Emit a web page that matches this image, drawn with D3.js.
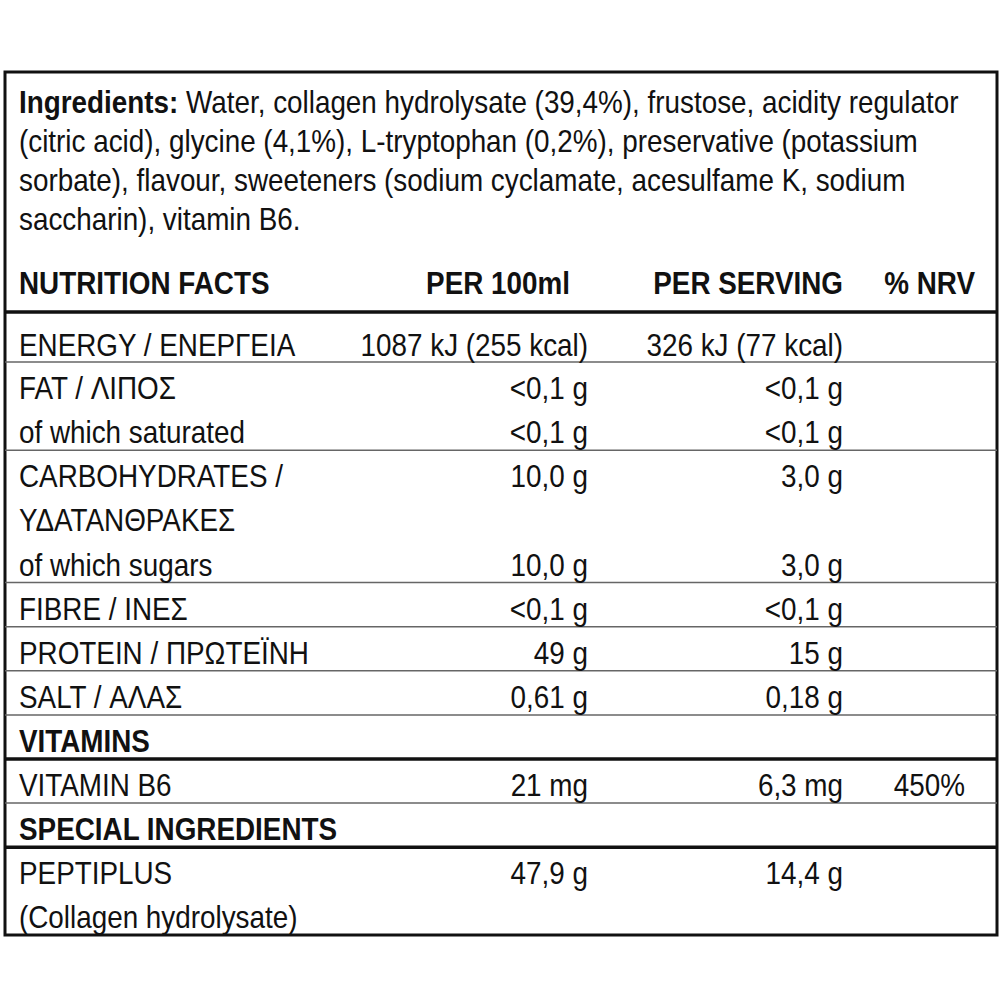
<!DOCTYPE html>
<html>
<head>
<meta charset="utf-8">
<script src="https://cdn.jsdelivr.net/npm/d3@7"></script>
<style>
  body { margin: 0; background: #fff; }
  svg text { font-family: "Liberation Sans", Arial, sans-serif; fill: #111; }
</style>
</head>
<body>
<svg id="chart" width="1000" height="1000"></svg>
<script>
// ingredient lines
var ingredients = [
  "Water, collagen hydrolysate (39,4%), frustose, acidity regulator",
  "(citric acid), glycine (4,1%), L-tryptophan (0,2%), preservative (potassium",
  "sorbate), flavour, sweeteners (sodium cyclamate, acesulfame K, sodium",
  "saccharin), vitamin B6."
];
var headers = ["NUTRITION FACTS", "PER 100ml", "PER SERVING", "% NRV"];

// one entry per text line of the table
var labels = ["ENERGY / ΕΝΕΡΓΕΙΑ", "FAT / ΛΙΠΟΣ", "of which saturated", "CARBOHYDRATES /",
  "ΥΔΑΤΑΝΘΡΑΚΕΣ", "of which sugars", "FIBRE / ΙΝΕΣ", "PROTEIN / ΠΡΩΤΕΪΝΗ", "SALT / ΑΛΑΣ",
  "VITAMINS", "VITAMIN B6", "SPECIAL INGREDIENTS", "PEPTIPLUS", "(Collagen hydrolysate)"];
var per100 = ["1087 kJ (255 kcal)", "<0,1 g", "<0,1 g", "10,0 g", "", "10,0 g", "<0,1 g",
  "49 g", "0,61 g", "", "21 mg", "", "47,9 g", ""];
var perServing = ["326 kJ (77 kcal)", "<0,1 g", "<0,1 g", "3,0 g", "", "3,0 g", "<0,1 g",
  "15 g", "0,18 g", "", "6,3 mg", "", "14,4 g", ""];
var nrv = ["", "", "", "", "", "", "", "", "", "", "450%", "", "", ""];
var boldRows = ["VITAMINS", "SPECIAL INGREDIENTS"];
// rule drawn below line index: thin or thick
var rulesAfter = [[0, "thin"], [2, "thin"], [5, "thin"], [6, "thin"], [7, "thin"],
  [8, "thin"], [9, "thick"], [10, "thin"], [11, "thick"]];

var svg = d3.select("#chart");
var L = 5, R = 997, T = 72, B = 935;
var fs = 32, sx = 0.87;

// line i spans y(i)..y(i+1); first row a bit taller
var y = function(i) { return i == 0 ? 312 : 318 + 44.1 * i; };

function place(x, yy) { return "translate(" + x + "," + yy + ") scale(" + sx + ",1)"; }

// outer box
svg.append("rect").attr("x", L).attr("y", T).attr("width", R - L).attr("height", B - T)
  .attr("fill", "none").attr("stroke", "#111").attr("stroke-width", 3);

// ingredients
svg.append("g").selectAll("text").data(ingredients).enter().append("text")
  .attr("transform", function(d, i) { return place(19, 113 + i * 39); })
  .attr("font-size", fs)
  .each(function(d, i) {
    var t = d3.select(this);
    if (i == 0) t.append("tspan").attr("font-weight", "bold").text("Ingredients: ");
    t.append("tspan").text(d);
  });

// header row
var hx = [[19, "start"], [570, "end"], [843, "end"], [975, "end"]];
svg.selectAll(".hdr").data(headers).enter().append("text")
  .attr("transform", function(d, i) { return place(hx[i][0], 294); })
  .attr("text-anchor", function(d, i) { return hx[i][1]; })
  .attr("font-size", fs).attr("font-weight", "bold").text(function(d) { return d; });
svg.append("line").attr("x1", L).attr("x2", R).attr("y1", 312).attr("y2", 312)
  .attr("stroke", "#111").attr("stroke-width", 3.5);

// rules
svg.selectAll(".rule").data(rulesAfter).enter().append("line")
  .attr("x1", L).attr("x2", R)
  .attr("y1", function(d) { return y(d[0] + 1); }).attr("y2", function(d) { return y(d[0] + 1); })
  .attr("stroke", function(d) { return d[1] == "thick" ? "#111" : "#666"; })
  .attr("stroke-width", function(d) { return d[1] == "thick" ? 3.5 : 1.5; });

// columns
function col(data, x, anchor) {
  svg.append("g").selectAll("text").data(data).enter().append("text")
    .attr("transform", function(d, i) { return place(x, (i == 0 ? 356 : y(i) + 37)); })
    .attr("text-anchor", anchor).attr("font-size", fs)
    .attr("font-weight", function(d) { return boldRows.indexOf(d) >= 0 ? "bold" : null; })
    .text(function(d) { return d; });
}
col(labels, 19, "start");
col(per100, 588, "end");
col(perServing, 843, "end");
col(nrv, 965, "end");
</script>
</body>
</html>
